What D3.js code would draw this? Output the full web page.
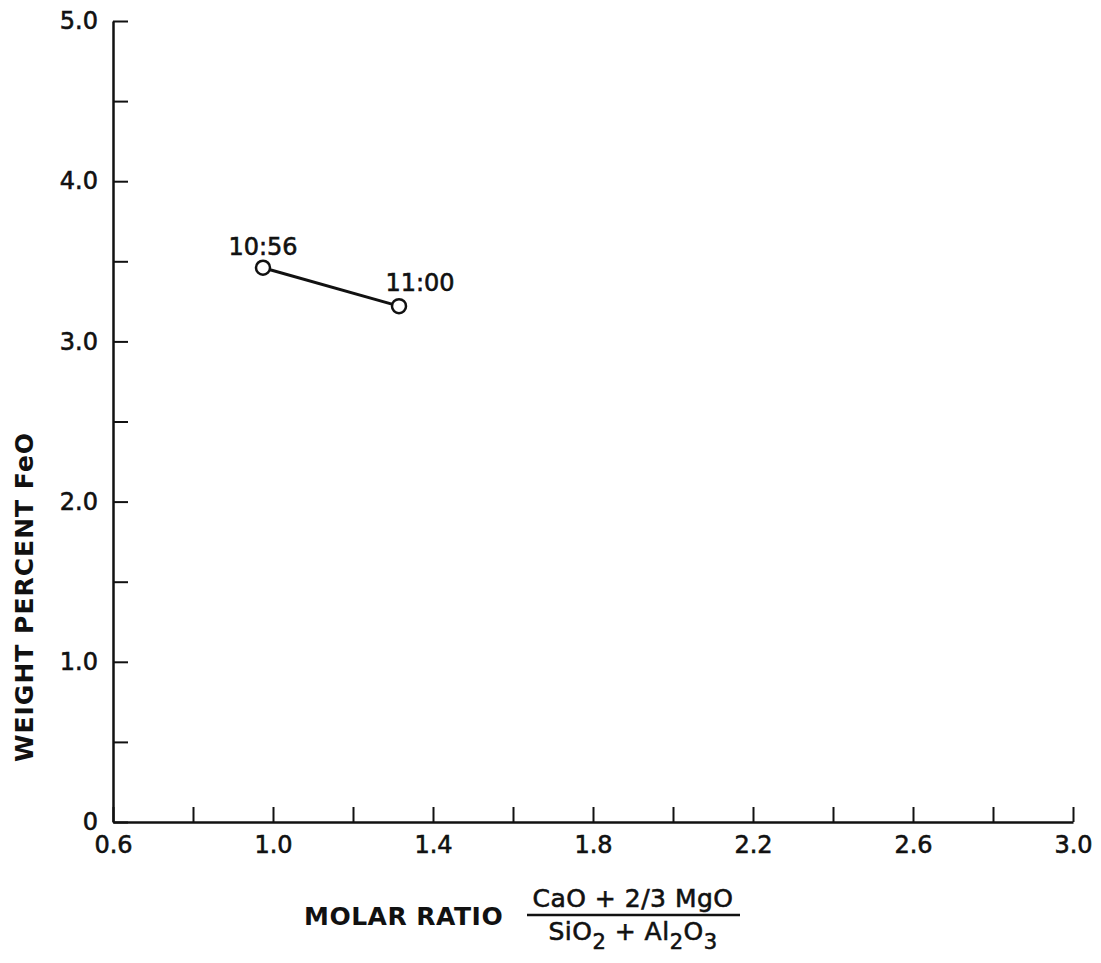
<!DOCTYPE html>
<html>
<head>
<meta charset="utf-8">
<script src="https://cdn.jsdelivr.net/npm/d3@7"></script>
<style>
  body { margin: 0; background: #fff; }
  svg { display: block; }
  text { font-family: "DejaVu Sans", sans-serif; fill: #111; }
  .heavy { stroke: #111; stroke-width: 0.6px; }
</style>
</head>
<body>
<svg id="chart" width="1101" height="963"></svg>
<script>
// data
const ratio = [0.975, 1.315];          // molar ratio (x)
const feo = [3.46, 3.22];              // weight percent FeO (y)
const times = ["10:56", "11:00"];      // sample labels

const xTicks = [0.6, 0.8, 1.0, 1.2, 1.4, 1.6, 1.8, 2.0, 2.2, 2.4, 2.6, 2.8, 3.0];
const xLabelled = [0.6, 1.0, 1.4, 1.8, 2.2, 2.6, 3.0];
const yTicks = [0, 0.5, 1, 1.5, 2, 2.5, 3, 3.5, 4, 4.5, 5];
const yLabelled = [0, 1, 2, 3, 4, 5];

// where each time label sits relative to its point
const labelOffsets = [[0, -13], [21, -15]];

const svg = d3.select("#chart");

const x = d3.scaleLinear().domain([0.6, 3.0]).range([113, 1073]);
const y = d3.scaleLinear().domain([0, 5]).range([822, 21]);

// axes, ticks pointing inward
svg.append("g")
    .attr("transform", `translate(0,${y(0)})`)
    .call(d3.axisBottom(x)
        .tickValues(xTicks)
        .tickSize(-15)
        .tickSizeOuter(0)
        .tickPadding(14)
        .tickFormat(d => xLabelled.some(v => Math.abs(v - d) < 1e-9) ? d.toFixed(1) : ""));

svg.append("g")
    .attr("transform", `translate(${x(0.6)},0)`)
    .call(d3.axisLeft(y)
        .tickValues(yTicks)
        .tickSize(-15)
        .tickSizeOuter(0)
        .tickPadding(15)
        .tickFormat(d => yLabelled.includes(d) ? (d === 0 ? "0" : d.toFixed(1)) : ""));

svg.selectAll(".domain").attr("stroke", "#111").attr("stroke-width", 2.5);
svg.selectAll(".tick line").attr("stroke", "#111").attr("stroke-width", 2);
svg.selectAll(".tick text")
    .classed("heavy", true)
    .style("font-family", "'DejaVu Sans', sans-serif")
    .style("font-size", "24px")
    .attr("fill", "#111");

// connecting line
const pts = ratio.map((r, i) => ({ r: r, f: feo[i], t: times[i] }));

svg.append("path")
    .datum(pts)
    .attr("fill", "none")
    .attr("stroke", "#111")
    .attr("stroke-width", 3)
    .attr("d", d3.line().x(d => x(d.r)).y(d => y(d.f)));

svg.selectAll("circle.pt")
    .data(pts)
    .join("circle")
    .attr("class", "pt")
    .attr("cx", d => x(d.r))
    .attr("cy", d => y(d.f))
    .attr("r", 7)
    .attr("fill", "#fff")
    .attr("stroke", "#111")
    .attr("stroke-width", 2.5);

svg.selectAll("text.time")
    .data(pts)
    .join("text")
    .attr("class", "time heavy")
    .attr("x", (d, i) => x(d.r) + labelOffsets[i][0])
    .attr("y", (d, i) => y(d.f) + labelOffsets[i][1])
    .attr("text-anchor", "middle")
    .style("font-size", "24px")
    .text(d => d.t);

// y axis title
svg.append("text")
    .attr("transform", "translate(33,597) rotate(-90)")
    .attr("text-anchor", "middle")
    .style("font-size", "25px")
    .style("font-weight", "bold")
    .style("letter-spacing", "1px")
    .text("WEIGHT PERCENT FeO");

// x axis title with fraction
svg.append("text")
    .attr("x", 304)
    .attr("y", 925)
    .style("font-size", "25px")
    .style("font-weight", "bold")
    .style("letter-spacing", "0.5px")
    .text("MOLAR RATIO");

svg.append("text")
    .attr("class", "heavy")
    .attr("x", 633)
    .attr("y", 907)
    .attr("text-anchor", "middle")
    .style("font-size", "25px")
    .style("letter-spacing", "0.5px")
    .text("CaO + 2/3 MgO");

svg.append("line")
    .attr("x1", 527).attr("x2", 740)
    .attr("y1", 915).attr("y2", 915)
    .attr("stroke", "#111")
    .attr("stroke-width", 2.5);

const den = svg.append("text")
    .attr("class", "heavy")
    .attr("x", 633)
    .attr("y", 940)
    .attr("text-anchor", "middle")
    .style("font-size", "25px")
    .style("letter-spacing", "0.5px");
den.append("tspan").text("SiO");
den.append("tspan").attr("dy", 9).style("font-size", "21px").text("2");
den.append("tspan").attr("dy", -9).text(" + Al");
den.append("tspan").attr("dy", 9).style("font-size", "21px").text("2");
den.append("tspan").attr("dy", -9).text("O");
den.append("tspan").attr("dy", 9).style("font-size", "21px").text("3");
</script>
</body>
</html>
